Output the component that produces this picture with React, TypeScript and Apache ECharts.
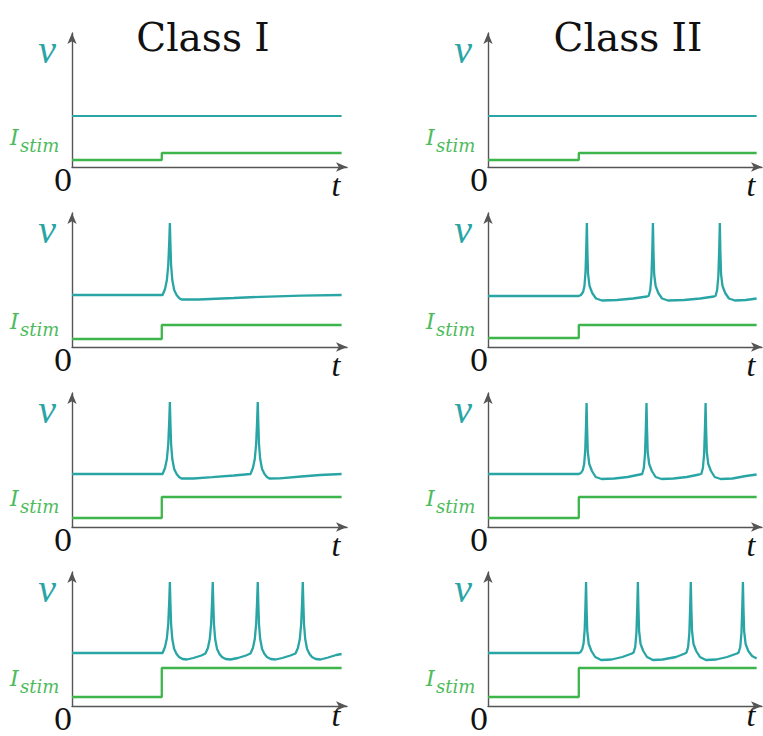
import React, { useEffect, useRef } from "react";
import * as echarts from "echarts";

// ---------- DATA ----------
const columnTitles = ["Class I", "Class II"];
const vLabel = "v";
const iLabel = "I";
const iSub = "stim";
const originLabel = "0";
const timeLabel = "t";

// Class I (left column), rows 1..4 : membrane potential v(t)
const classI_v1: number[][] = [[0, 51], [100, 51]];
const classI_v2: number[][] = [
  [0, 52], [33.6, 52], [34.5, 58], [35.2, 67], [35.7, 82], [36.05, 104], [36.3, 124], [36.5, 104],
  [36.75, 82], [37.2, 67], [37.9, 57], [38.8, 52], [39.7, 49], [40.6, 47.5], [47, 47.5], [60, 49],
  [70, 50.2], [85, 51.3], [100, 52],
];
const classI_v3: number[][] = [
  [0, 53], [33.6, 53], [34.5, 59], [35.2, 68], [35.7, 83], [36.05, 105], [36.3, 125], [36.5, 105],
  [36.75, 83], [37.2, 68], [37.9, 58], [38.8, 53], [39.7, 50], [40.6, 48.5], [45, 48.5], [52, 49.8],
  [60, 51.5], [66.2, 53],
  [67.1, 59], [67.8, 68], [68.3, 83], [68.65, 105], [68.9, 125], [69.1, 105], [69.35, 83], [69.8, 68],
  [70.5, 58], [71.4, 53], [72.3, 50], [73.2, 48.5], [77, 48.7], [85, 50.5], [92, 52], [100, 53],
];
const classI_v4: number[][] = [
  [0, 53], [33.6, 53], [34.5, 59], [35.2, 68], [35.7, 82], [36.05, 104], [36.3, 124], [36.5, 104],
  [36.75, 82], [37.2, 67], [37.9, 57], [38.8, 52], [39.7, 49], [41, 47], [42.6, 46.5], [45, 48],
  [48, 50.5], [49.5, 52.5],
  [50.4, 58], [51.1, 67], [51.6, 82], [51.95, 104], [52.2, 124], [52.4, 104], [52.65, 82], [53.1, 67],
  [53.8, 57], [54.7, 52], [55.6, 49], [57, 47], [58.8, 46.5], [61.5, 48], [64.5, 50.5], [66.2, 52.5],
  [67.1, 58], [67.8, 67], [68.3, 82], [68.65, 104], [68.9, 124], [69.1, 104], [69.35, 82], [69.8, 67],
  [70.5, 57], [71.4, 52], [72.3, 49], [73.7, 47], [75.5, 46.5], [78, 48], [81, 50.5], [82.9, 52.5],
  [83.8, 58], [84.5, 67], [85, 82], [85.35, 104], [85.6, 124], [85.8, 104], [86.05, 82], [86.5, 67],
  [87.2, 57], [88.1, 52], [89, 49], [90.4, 47], [92.2, 46.5], [95, 48.5], [98, 51], [100, 52],
];

// Class I stimulus current I_stim(t)
const classI_I1: number[][] = [[0, 7], [33.3, 7], [33.3, 14], [100, 14]];
const classI_I2: number[][] = [[0, 8], [33.3, 8], [33.3, 22], [100, 22]];
const classI_I3: number[][] = [[0, 9], [33.3, 9], [33.3, 30], [100, 30]];
const classI_I4: number[][] = [[0, 9], [33.3, 9], [33.3, 38], [100, 38]];

// Class II (right column), rows 1..4 : membrane potential v(t)
const classII_v1: number[][] = [[0, 51], [100, 51]];
const classII_v2: number[][] = [
  [0, 51], [33.8, 51], [34.6, 52], [35.4, 55], [35.9, 61], [36.3, 75], [36.55, 96], [36.8, 124],
  [37.0, 96], [37.25, 73], [37.8, 61], [38.8, 54], [40.2, 48.5], [42.4, 46.5], [48, 47], [54, 48.5],
  [59.2, 50.5],
  [59.8, 51], [60.4, 57], [60.85, 71], [61.15, 96], [61.4, 124], [61.6, 96], [61.85, 73], [62.4, 61],
  [63.4, 54], [64.8, 48.5], [67, 46.5], [73, 47], [79, 48.5], [84.1, 50.5],
  [84.7, 51], [85.3, 57], [85.75, 71], [86.05, 96], [86.3, 124], [86.5, 96], [86.75, 73], [87.3, 61],
  [88.3, 54], [89.7, 48.5], [91.9, 46.5], [96, 47], [100, 48.5],
];
const classII_v3: number[][] = [
  [0, 53], [33.8, 53], [34.6, 54], [35.3, 57], [35.8, 63], [36.2, 77], [36.45, 98], [36.7, 124],
  [36.9, 98], [37.15, 75], [37.7, 63], [38.7, 56], [40.1, 50], [42.3, 48], [47, 48.5], [52, 50],
  [56.5, 52.5],
  [57.4, 53], [58.0, 59], [58.45, 73], [58.75, 98], [59.0, 124], [59.2, 98], [59.45, 75], [60.0, 63],
  [61.0, 56], [62.4, 50], [64.6, 48], [69, 48.5], [74, 50], [78.6, 52.5],
  [79.4, 53], [80.0, 59], [80.45, 73], [80.75, 98], [81.0, 124], [81.2, 98], [81.45, 75], [82.0, 63],
  [83.0, 56], [84.4, 50], [86.6, 48], [91, 48.5], [96, 51], [100, 52.5],
];
const classII_v4: number[][] = [
  [0, 53], [33.8, 53], [34.5, 54], [35.1, 57], [35.6, 63], [36.0, 77], [36.25, 98], [36.5, 124],
  [36.7, 98], [36.95, 75], [37.5, 62], [38.5, 55], [39.9, 49], [42.1, 46], [46, 46.5], [50, 49],
  [53.6, 52.5],
  [54.2, 53.5], [54.8, 59], [55.25, 73], [55.55, 98], [55.8, 124], [56.0, 98], [56.25, 75], [56.8, 62],
  [57.8, 55], [59.2, 49], [61.4, 46], [65, 46.5], [70, 49], [73.3, 52.5],
  [73.9, 53.5], [74.5, 59], [74.95, 73], [75.25, 98], [75.5, 124], [75.7, 98], [75.95, 75], [76.5, 62],
  [77.5, 55], [78.9, 49], [81.1, 46], [85, 46.5], [89, 49], [92.7, 52.5],
  [93.3, 53.5], [93.9, 59], [94.35, 73], [94.65, 98], [94.9, 124], [95.1, 98], [95.35, 75], [95.9, 62],
  [96.9, 55], [98.3, 50], [100, 47.5],
];

// Class II stimulus current I_stim(t)
const classII_I1: number[][] = [[0, 7], [33.8, 7], [33.8, 14], [100, 14]];
const classII_I2: number[][] = [[0, 9], [33.8, 9], [33.8, 22], [100, 22]];
const classII_I3: number[][] = [[0, 9], [33.8, 9], [33.8, 30], [100, 30]];
const classII_I4: number[][] = [[0, 9], [33.8, 9], [33.8, 38], [100, 38]];

const vSeries = [
  [classI_v1, classI_v2, classI_v3, classI_v4],
  [classII_v1, classII_v2, classII_v3, classII_v4],
];
const iSeries = [
  [classI_I1, classI_I2, classI_I3, classI_I4],
  [classII_I1, classII_I2, classII_I3, classII_I4],
];

// ---------- LAYOUT / STYLE ----------
const TEAL = "#2aa5a5";
const GREEN = "#3db54b";
const GREEN_TXT = "#4dbb5c";
const AXIS = "#555555";
const SERIF = '"DejaVu Serif", serif';
const MATH = '"Liberation Serif", serif';

const colLeft = [72, 488];
const colWidth = [275, 274];
const rowTop = [33, 213, 393, 572];
const gridH = 134;
const iLabelOffset = [19, 15, 18, 17];

export default function App() {
  const ref = useRef<HTMLDivElement>(null);

  useEffect(() => {
    if (!ref.current) return;
    const chart = echarts.init(ref.current, null, { renderer: "svg" });

    const grid: any[] = [];
    const xAxis: any[] = [];
    const yAxis: any[] = [];
    const series: any[] = [];
    const graphic: any[] = [];

    const txt = (text: string, x: number, y: number, font: string, fill: string, align = "center", va = "middle") => ({
      type: "text",
      x,
      y,
      silent: true,
      style: { text, font, fill, align, verticalAlign: va, textAlign: align, textVerticalAlign: va },
    });

    for (let c = 0; c < 2; c++) {
      for (let r = 0; r < 4; r++) {
        const k = c * 4 + r;
        const left = colLeft[c];
        const top = rowTop[r];
        grid.push({ left, top, width: colWidth[c], height: gridH });
        const axisLine = {
          show: true,
          symbol: ["none", "arrow"],
          symbolSize: [7, 11],
          lineStyle: { color: AXIS, width: 1.4 },
        };
        xAxis.push({
          type: "value", gridIndex: k, min: 0, max: 102,
          axisLine, axisTick: { show: false }, axisLabel: { show: false }, splitLine: { show: false },
        });
        yAxis.push({
          type: "value", gridIndex: k, min: 0, max: 134,
          axisLine, axisTick: { show: false }, axisLabel: { show: false }, splitLine: { show: false },
        });
        series.push({
          type: "line", xAxisIndex: k, yAxisIndex: k, data: iSeries[c][r], showSymbol: false,
          lineStyle: { color: GREEN, width: 2.3 }, z: 2, clip: false,
        });
        series.push({
          type: "line", xAxisIndex: k, yAxisIndex: k, data: vSeries[c][r], showSymbol: false,
          lineStyle: { color: TEAL, width: r === 0 ? 1.8 : 2.3 }, z: 3, clip: false,
        });

        const axisY = top + gridH;
        // v label
        graphic.push(txt(vLabel, left - 25, top + 16, `italic 40px ${MATH}`, TEAL));
        // I_stim label
        graphic.push(txt(iLabel, left - 62, axisY - iLabelOffset[r], `italic 22px ${SERIF}`, GREEN_TXT, "left", "bottom"));
        graphic.push(txt(iSub, left - 52, axisY - iLabelOffset[r] + 6, `italic 18px ${SERIF}`, GREEN_TXT, "left", "bottom"));
        // origin 0
        graphic.push(txt(originLabel, left - 9, axisY + 13, `30px ${SERIF}`, "#111"));
        // t label
        graphic.push(txt(timeLabel, left + colWidth[c] - 11, Math.min(axisY + 34, 731), `italic 32px ${MATH}`, "#111", "center", "bottom"));
      }
    }
    graphic.push(txt(columnTitles[0], 203, 37, `39px ${SERIF}`, "#111"));
    graphic.push(txt(columnTitles[1], 628, 37, `39px ${SERIF}`, "#111"));

    chart.setOption({
      animation: false,
      backgroundColor: "#ffffff",
      grid,
      xAxis,
      yAxis,
      series,
      graphic: { elements: graphic },
    });
    return () => chart.dispose();
  }, []);

  return <div ref={ref} style={{ position: "absolute", left: 0, top: 0, width: 763, height: 736 }} />;
}
